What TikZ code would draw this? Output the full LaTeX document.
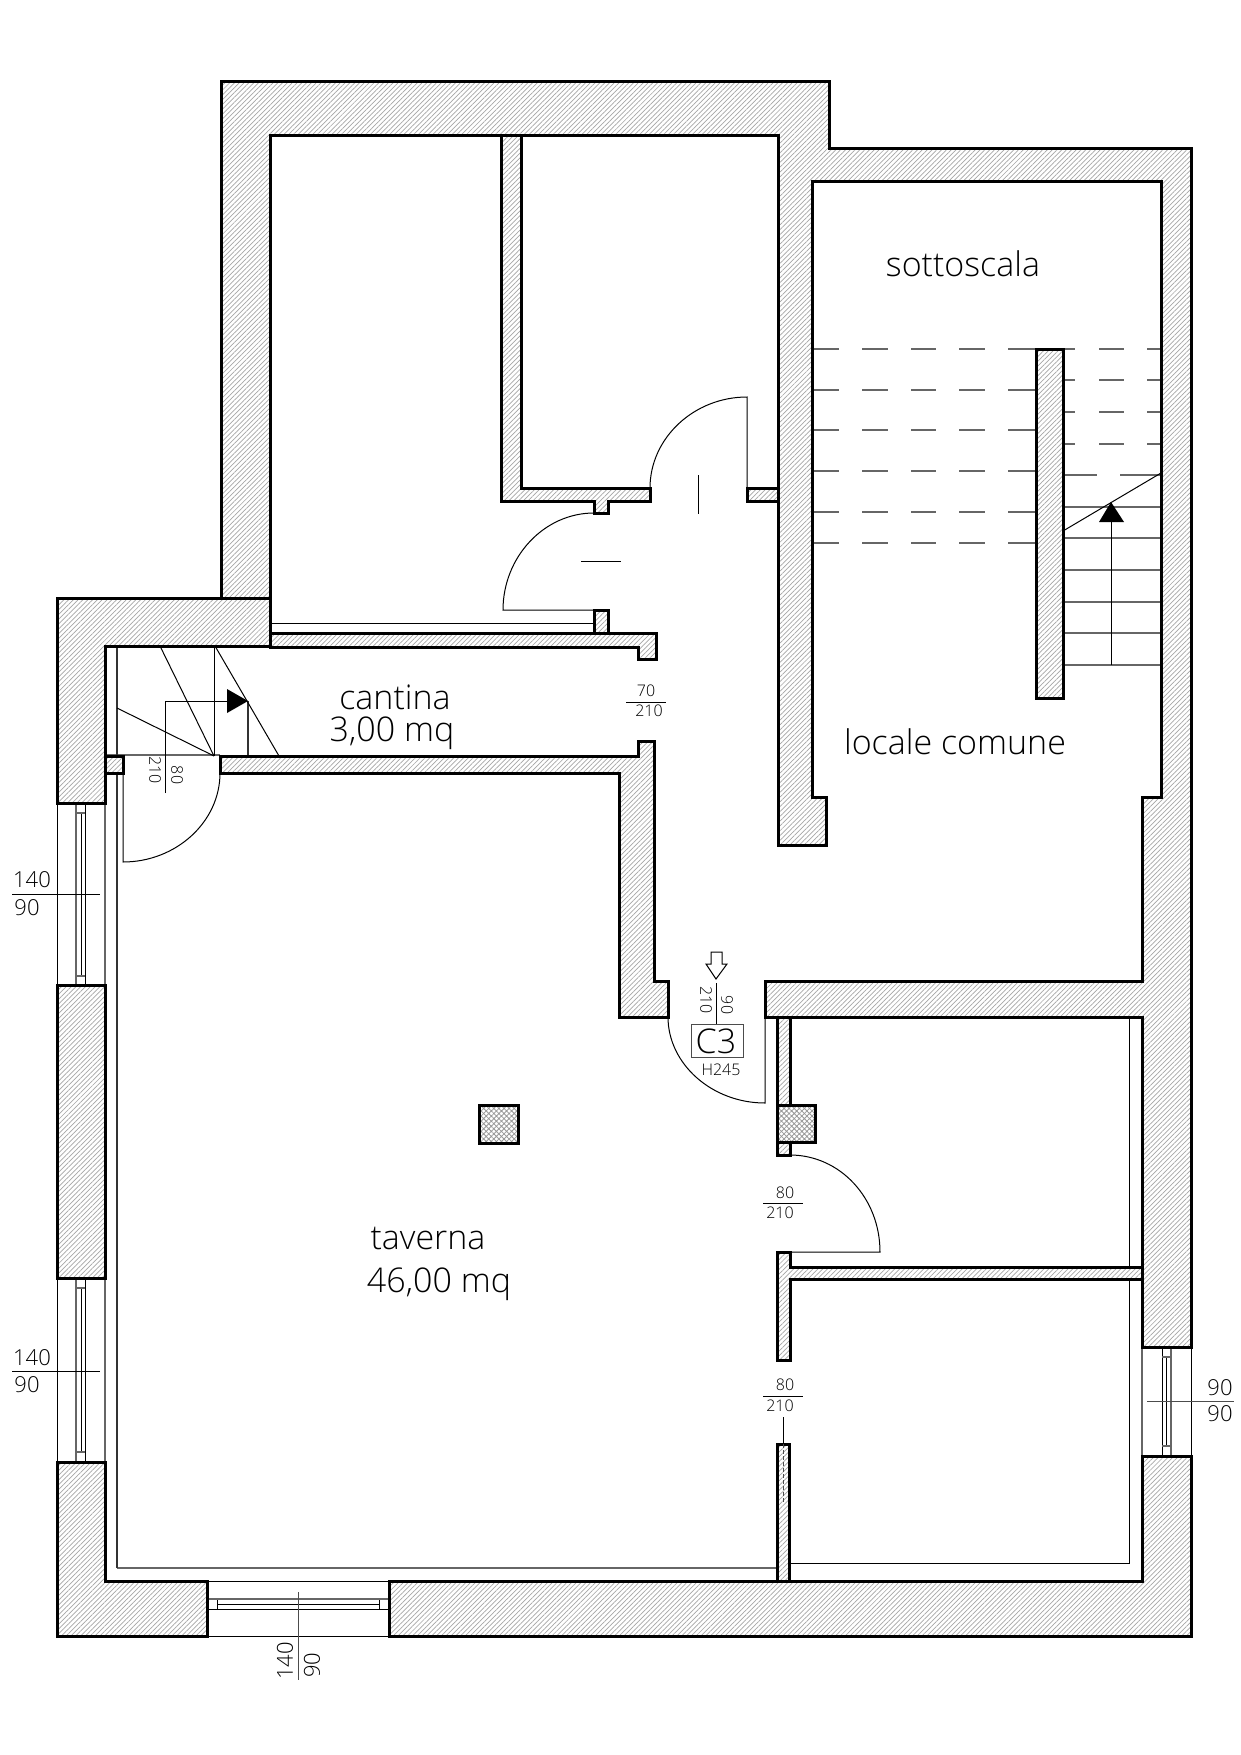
\documentclass[tikz,border=0pt]{standalone}
\usepackage{fontspec}
\setmainfont{Open Sans Light}
\usetikzlibrary{patterns.meta}

\tikzset{
	wall/.style={line width=3pt,miter limit=10,draw=black,preaction={fill=white},pattern={Lines[angle=45,distance=3.4pt,line width=.7pt]},pattern color=black!35},
	pillar/.style={line width=3pt,draw=black,preaction={fill=white},pattern={Hatch[angle=45,distance=3.6pt,line width=.8pt]},pattern color=black!40},
	thin line/.style={line width=1pt,draw=black},
	grey line/.style={line width=1.4pt,draw=black!60},
	dark line/.style={line width=1.4pt,draw=black!80},
}

\begin{document}
\begin{tikzpicture}[x=1pt,y=-1pt]
	\path[use as bounding box,fill=white] (0,0) rectangle (1240,1755);

	\begin{scope}[thin line]
		\draw (57,803) -- (57,985);
		\draw (57,1278) -- (57,1462);
		\draw (85,803) -- (85,985);
		\draw (85,1278) -- (85,1462);
		\draw (81,813) -- (81,976);
		\draw (81,1288) -- (81,1452);
		\draw (207,1581) -- (389,1581);
		\draw (207,1636) -- (389,1636);
		\draw (207,1609) -- (389,1609);
		\draw (217,1604) -- (379,1604);
		\draw (217,1599) -- (217,1609);
		\draw (379,1599) -- (379,1609);
		\draw (1191,1347) -- (1191,1456);
		\draw (1162,1347) -- (1162,1456);
		\draw (1166,1357) -- (1166,1446);
		\draw (1129,1017) -- (1129,1563) -- (789,1563);
	\end{scope}

	\begin{scope}[grey line]
		\draw (105,803) -- (105,985);
		\draw (105,1278) -- (105,1462);
		\draw (76,803) -- (76,985);
		\draw (76,1278) -- (76,1462);
		\draw (76,813) -- (85,813);
		\draw (76,976) -- (85,976);
		\draw (76,1288) -- (85,1288);
		\draw (76,1452) -- (85,1452);
		\draw (207,1599) -- (389,1599);
		\draw (1142,1347) -- (1142,1456);
		\draw (1171,1347) -- (1171,1456);
		\draw (1162,1357) -- (1171,1357);
		\draw (1162,1446) -- (1171,1446);
		\draw (105,755) -- (220,755);
		\draw (117,1568) -- (777,1568);
	\end{scope}

	\draw[dark line] (117,646) -- (117,1568);
	\draw[dark line] (248,701) -- (248,756);

	\begin{scope}[thin line]
		\draw (270,623) -- (594,623);
		\draw (160,646) -- (214,756);
		\draw (214,646) -- (214,756);
		\draw (215,646) -- (279,756);
		\draw (117,708) -- (214,756);
		\draw (165,793) -- (165,701) -- (230,701);

		\coordinate (d1a) at (594,610);
		\coordinate (d1b) at (503,610);
		\coordinate (d1c) at (594,513);
		\draw (d1a) -- (d1b) .. controls (503,557) and (544,513) .. (d1c);

		\coordinate (d2a) at (747,488);
		\coordinate (d2b) at (747,397);
		\coordinate (d2c) at (650,488);
		\draw (d2a) -- (d2b) .. controls (694,397) and (650,438) .. (d2c);

		\coordinate (d3a) at (123,773);
		\coordinate (d3b) at (123,862);
		\coordinate (d3c) at (220,773);
		\draw (d3a) -- (d3b) .. controls (176,862) and (220,822) .. (d3c);

		\coordinate (d4a) at (765,1017);
		\coordinate (d4b) at (765,1103);
		\coordinate (d4c) at (668,1017);
		\draw (d4a) -- (d4b) .. controls (712,1103) and (668,1064) .. (d4c);

		\coordinate (d5a) at (790,1252);
		\coordinate (d5b) at (880,1252);
		\coordinate (d5c) at (790,1155);
		\draw (d5a) -- (d5b) .. controls (880,1198) and (840,1155) .. (d5c);

		\draw (698,475) -- (698,514);
		\draw (581,561) -- (621,561);
		\draw (12,894) -- (100,894);
		\draw (12,1371) -- (100,1371);
		\draw[black!70] (298,1592) -- (298,1680);
		\draw[black!70] (1147,1401) -- (1234,1401);
		\draw (626,702) -- (666,702);
		\draw (763,1203) -- (803,1203);
		\draw (763,1396) -- (803,1396);
		\draw (783,1417) -- (783,1444);
		\draw (716,983) -- (716,1024);
	\end{scope}

	\begin{scope}[grey line]
		\foreach \y in {349,390,430,471,512,543} {
			\draw (812,\y) -- (839,\y);
			\draw (862,\y) -- (888,\y);
			\draw (911,\y) -- (936,\y);
			\draw (959,\y) -- (985,\y);
			\draw (1008,\y) -- (1036,\y);
		}
		\foreach \y in {349,380,412,444} {
			\draw (1063,\y) -- (1075,\y);
			\draw (1099,\y) -- (1124,\y);
			\draw (1147,\y) -- (1161,\y);
		}
		\draw (1063,475) -- (1097,475);
		\draw (1120,475) -- (1161,475);
		\foreach \y in {507,538,570,602,633,665} {
			\draw (1063,\y) -- (1161,\y);
		}
	\end{scope}

	\begin{scope}[thin line]
		\draw (1063,531) -- (1161,473);
		\draw (1111,665) -- (1111,522);
		\fill (1099,522) -- (1124,522) -- (1111,502) -- cycle;
		\fill (227,689) -- (248,701) -- (227,713) -- cycle;
		\draw[fill=white] (711,952) -- (722,952) -- (722,964) -- (727,964) -- (716,979) -- (706,964) -- (711,964) -- cycle;
	\end{scope}

	\begin{scope}[wall]
		\draw[wall] (221,82) -- (829,82) -- (829,149) -- (1191,149) -- (1191,1347) -- (1142,1347) -- (1142,1017) -- (765,1017) -- (765,981) -- (1142,981) -- (1142,797) -- (1161,797) -- (1161,182) -- (812,182) -- (812,797) -- (826,797) -- (826,845) -- (778,845) -- (778,136) -- (270,136) -- (270,598) -- (221,598) -- cycle;
		\draw[wall] (57,598) -- (270,598) -- (270,646) -- (105,646) -- (105,803) -- (57,803) -- cycle;
		\draw[wall] (270,633) -- (656,633) -- (656,659) -- (638,659) -- (638,647) -- (270,647) -- cycle;
		\draw[wall] (594,610) -- (608,610) -- (608,633) -- (594,633) -- cycle;
		\draw[wall] (501,136) -- (521,136) -- (521,488) -- (650,488) -- (650,501) -- (608,501) -- (608,513) -- (594,513) -- (594,501) -- (501,501) -- cycle;
		\draw[wall] (747,488) -- (778,488) -- (778,501) -- (747,501) -- cycle;
		\draw[wall] (220,756) -- (638,756) -- (638,741) -- (654,741) -- (654,981) -- (668,981) -- (668,1017) -- (619,1017) -- (619,773) -- (220,773) -- cycle;
		\draw[wall] (105,756) -- (123,756) -- (123,773) -- (105,773) -- cycle;
		\draw[wall] (57,985) -- (105,985) -- (105,1278) -- (57,1278) -- cycle;
		\draw[wall] (57,1462) -- (105,1462) -- (105,1581) -- (207,1581) -- (207,1636) -- (57,1636) -- cycle;
		\draw[wall] (389,1581) -- (1142,1581) -- (1142,1456) -- (1191,1456) -- (1191,1636) -- (389,1636) -- cycle;
		\draw[wall] (1036,349) -- (1063,349) -- (1063,698) -- (1036,698) -- cycle;
		\draw[wall] (777,1017) -- (790,1017) -- (790,1155) -- (777,1155) -- cycle;
		\draw[wall] (777,1252) -- (790,1252) -- (790,1267) -- (1142,1267) -- (1142,1279) -- (790,1279) -- (790,1360) -- (777,1360) -- cycle;
		\draw[wall] (777,1444) -- (789,1444) -- (789,1581) -- (777,1581) -- cycle;
		\draw[pillar] (479,1105) rectangle (518,1143);
		\draw[pillar] (777,1105) rectangle (815,1142);
	\end{scope}
	\draw[thin line,black!70,dash pattern=on 4pt off 2pt] (783,1444) -- (783,1503);

	\draw[line width=1pt,draw=black!70] (691,1024) rectangle (743,1057);

	\begin{scope}[every node/.style={font=\fontsize{34}{37}\selectfont,inner sep=0pt}]
		\node (sottoscala) at (963,264) {sottoscala};
		\node (comune) at (955,742) {locale comune};
		\node (cantina) at (395,697) {cantina};
		\node (mqcantina) at (392,733) {3,00 mq};
		\node (taverna) at (428,1238) {taverna};
		\node (mqtaverna) at (439,1284) {46,00 mq};
		\node (cthree) at (716,1041) {C3};
	\end{scope}

	\begin{scope}[every node/.style={font=\fontsize{22}{24}\selectfont,inner sep=0pt}]
		\node (wina) at (32,880) {140};
		\node (winb) at (27,908) {90};
		\node (winc) at (32,1358) {140};
		\node (wind) at (27,1385) {90};
		\node[rotate=90] (wine) at (285,1661) {140};
		\node[rotate=90] (winf) at (312,1665) {90};
		\node (wing) at (1220,1388) {90};
		\node (winh) at (1220,1414) {90};
	\end{scope}

	\begin{scope}[every node/.style={font=\fontsize{16}{18}\selectfont,inner sep=0pt}]
		\node (cana) at (646,691) {70};
		\node (canb) at (649,711) {210};
		\node (bana) at (785,1193) {80};
		\node (banb) at (780,1213) {210};
		\node (roma) at (785,1385) {80};
		\node (romb) at (780,1406) {210};
		\node[rotate=-90] (stra) at (177,775) {80};
		\node[rotate=-90] (strb) at (155,770) {210};
		\node[rotate=-90] (cina) at (727,1005) {90};
		\node[rotate=-90] (cinb) at (706,1000) {210};
		\node (height) at (721,1070) {H245};
	\end{scope}
\end{tikzpicture}
\end{document}
